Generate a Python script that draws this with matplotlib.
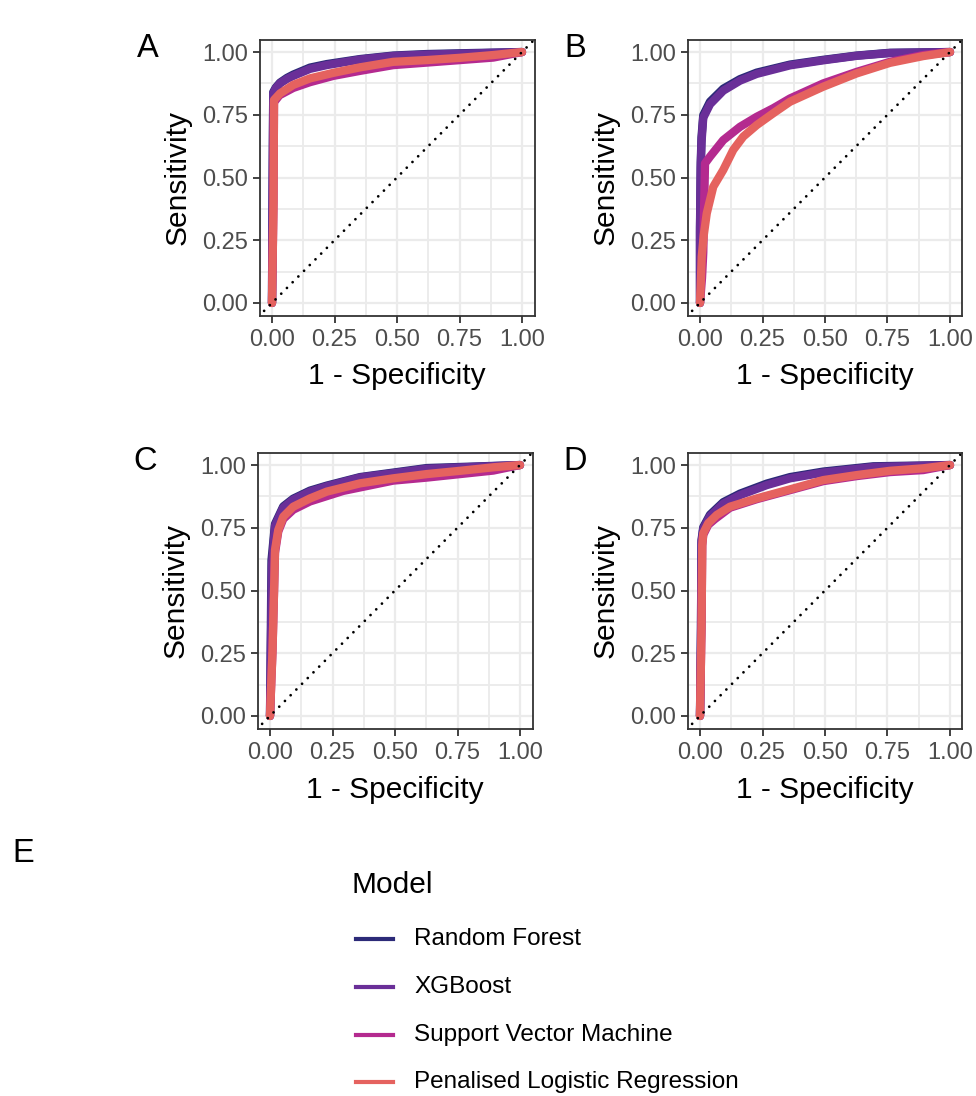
import numpy as np
import matplotlib.pyplot as plt
from matplotlib.lines import Line2D

plt.rcParams['font.family'] = ['Liberation Sans', 'DejaVu Sans']

MODELS = ['Random Forest', 'XGBoost', 'Support Vector Machine', 'Penalised Logistic Regression']
COLOURS = ['#2c2a78', '#6a2f98', '#b42a8f', '#e5625f']
PANELS = ['A', 'B', 'C', 'D']

# (fpr, tpr), per model
ROC = {
    'A': {
        'Random Forest': ([0, 0.002, 0.005, 0.015, 0.032, 0.06, 0.085, 0.152, 0.219, 0.352, 0.485, 0.619, 0.752, 1.0],
                          [0, 0.40, 0.840, 0.858, 0.878, 0.897, 0.910, 0.938, 0.952, 0.972, 0.986, 0.992, 0.995, 1.0]),
        'XGBoost': ([0, 0.002, 0.005, 0.015, 0.032, 0.06, 0.085, 0.152, 0.219, 0.352, 0.485, 0.619, 0.752, 1.0],
                    [0, 0.40, 0.835, 0.855, 0.875, 0.893, 0.905, 0.933, 0.948, 0.970, 0.984, 0.990, 0.993, 1.0]),
        'Support Vector Machine': ([0, 0.006, 0.008, 0.03, 0.085, 0.152, 0.245, 0.352, 0.485, 0.619, 0.752, 0.885, 1.0],
                                   [0, 0.40, 0.800, 0.828, 0.857, 0.880, 0.905, 0.925, 0.948, 0.958, 0.968, 0.978, 1.0]),
        'Penalised Logistic Regression': ([0, 0.006, 0.008, 0.032, 0.085, 0.152, 0.245, 0.352, 0.485, 0.619, 0.752, 0.885, 1.0],
                                          [0, 0.40, 0.809, 0.835, 0.869, 0.895, 0.917, 0.939, 0.961, 0.968, 0.977, 0.988, 1.0]),
    },
    'B': {
        'Random Forest': ([0, 0.0, 0.003, 0.006, 0.013, 0.04, 0.093, 0.16, 0.227, 0.36, 0.493, 0.627, 0.76, 1.0],
                          [0, 0.30, 0.56, 0.66, 0.748, 0.802, 0.854, 0.892, 0.918, 0.950, 0.969, 0.986, 0.997, 1.0]),
        'XGBoost': ([0, 0.0, 0.003, 0.006, 0.013, 0.04, 0.093, 0.16, 0.227, 0.36, 0.493, 0.627, 0.76, 1.0],
                    [0, 0.28, 0.54, 0.64, 0.738, 0.792, 0.846, 0.886, 0.913, 0.947, 0.967, 0.985, 0.996, 1.0]),
        'Support Vector Machine': ([0, 0.008, 0.013, 0.02, 0.04, 0.093, 0.16, 0.227, 0.293, 0.36, 0.493, 0.627, 0.76, 0.893, 1.0],
                                   [0, 0.10, 0.20, 0.556, 0.583, 0.649, 0.702, 0.742, 0.776, 0.815, 0.875, 0.921, 0.961, 0.988, 1.0]),
        'Penalised Logistic Regression': ([0, 0.004, 0.007, 0.015, 0.027, 0.053, 0.093, 0.133, 0.173, 0.227, 0.293, 0.36, 0.493, 0.627, 0.76, 0.893, 1.0],
                                          [0, 0.10, 0.185, 0.27, 0.357, 0.463, 0.530, 0.610, 0.663, 0.709, 0.756, 0.802, 0.862, 0.915, 0.957, 0.984, 1.0]),
    },
    'C': {
        'Random Forest': ([0, 0.003, 0.006, 0.02, 0.053, 0.093, 0.16, 0.227, 0.36, 0.627, 1.0],
                          [0, 0.30, 0.62, 0.765, 0.835, 0.866, 0.898, 0.918, 0.952, 0.988, 1.0]),
        'XGBoost': ([0, 0.004, 0.008, 0.02, 0.053, 0.093, 0.16, 0.227, 0.36, 0.627, 1.0],
                    [0, 0.30, 0.60, 0.758, 0.830, 0.862, 0.894, 0.915, 0.950, 0.985, 1.0]),
        'Support Vector Machine': ([0, 0.01, 0.017, 0.02, 0.033, 0.053, 0.093, 0.16, 0.293, 0.493, 0.627, 0.893, 1.0],
                                   [0, 0.26, 0.53, 0.650, 0.735, 0.785, 0.822, 0.855, 0.897, 0.938, 0.950, 0.978, 1.0]),
        'Penalised Logistic Regression': ([0, 0.01, 0.017, 0.02, 0.033, 0.053, 0.093, 0.16, 0.227, 0.36, 0.493, 0.627, 0.76, 0.893, 1.0],
                                          [0, 0.26, 0.53, 0.661, 0.741, 0.794, 0.834, 0.867, 0.894, 0.927, 0.947, 0.964, 0.977, 0.991, 1.0]),
    },
    'D': {
        'Random Forest': ([0, 0.004, 0.006, 0.013, 0.04, 0.093, 0.16, 0.267, 0.36, 0.493, 0.693, 1.0],
                          [0, 0.35, 0.70, 0.752, 0.802, 0.852, 0.886, 0.926, 0.952, 0.974, 0.995, 1.0]),
        'XGBoost': ([0, 0.004, 0.006, 0.013, 0.04, 0.093, 0.16, 0.267, 0.36, 0.493, 0.693, 1.0],
                    [0, 0.35, 0.69, 0.746, 0.796, 0.846, 0.880, 0.920, 0.947, 0.970, 0.992, 1.0]),
        'Support Vector Machine': ([0, 0.006, 0.009, 0.013, 0.033, 0.06, 0.12, 0.227, 0.36, 0.493, 0.627, 0.76, 0.893, 1.0],
                                   [0, 0.35, 0.68, 0.722, 0.762, 0.785, 0.830, 0.864, 0.900, 0.936, 0.956, 0.972, 0.980, 1.0]),
        'Penalised Logistic Regression': ([0, 0.006, 0.009, 0.013, 0.033, 0.067, 0.12, 0.227, 0.36, 0.493, 0.627, 0.76, 0.893, 1.0],
                                          [0, 0.35, 0.68, 0.728, 0.768, 0.801, 0.834, 0.867, 0.903, 0.940, 0.960, 0.977, 0.987, 1.0]),
    },
}

TICKS = [0, 0.25, 0.5, 0.75, 1.0]
TICK_LABELS = ['0.00', '0.25', '0.50', '0.75', '1.00']

W, H = 976, 1096
fig = plt.figure(figsize=(W / 100, H / 100), dpi=100)

# axes boxes in pixels: left, top
boxes = {'A': (259.5, 39.5), 'B': (687.5, 39.5), 'C': (257.5, 452.5), 'D': (687.5, 452.5)}
aw, ah = 275, 276

for p in PANELS:
    l, t = boxes[p]
    ax = fig.add_axes([l / W, 1 - (t + ah) / H, aw / W, ah / H])
    ax.set_xlim(-0.05, 1.05)
    ax.set_ylim(-0.05, 1.05)
    ax.set_xticks(TICKS)
    ax.set_xticklabels(TICK_LABELS)
    ax.set_yticks(TICKS)
    ax.set_yticklabels(TICK_LABELS)
    ax.set_xticks([0.125, 0.375, 0.625, 0.875], minor=True)
    ax.set_yticks([0.125, 0.375, 0.625, 0.875], minor=True)
    ax.grid(which='major', color='#ebebeb', lw=1.6)
    ax.grid(which='minor', color='#ebebeb', lw=1.3)
    ax.tick_params(which='minor', length=0)
    ax.tick_params(which='major', length=5, width=1.3, color='#333333',
                   labelsize=17, labelcolor='#4d4d4d', pad=3)
    ax.tick_params(axis='x', which='major', pad=5)
    ax.set_axisbelow(True)
    for s in ax.spines.values():
        s.set_color('#333333')
        s.set_linewidth(1.3)

    for m, c in zip(MODELS, COLOURS):
        fpr, tpr = ROC[p][m]
        ax.plot(fpr, tpr, color=c, lw=6, solid_capstyle='round', solid_joinstyle='round')

    ax.plot([-0.1, 1.1], [-0.1, 1.1], color='black', lw=2.0,
            dashes=(0.01, 2.9), dash_capstyle='round')

    ax.set_xlabel('1 - Specificity', fontsize=21.5, labelpad=8)
    ax.set_ylabel('Sensitivity', fontsize=21.5, labelpad=8)

    fig.text((l - 112) / W, 1 - (t + 9) / H, p, fontsize=23.5, ha='center', va='center')

fig.text(23 / W, 1 - 854 / H, 'E', fontsize=23.5, ha='center', va='center')

# legend
fig.text(352 / W, 1 - 885 / H, 'Model', fontsize=21.5, ha='left', va='center')
ys = [939, 987, 1035, 1082]
for m, c, y in zip(MODELS, COLOURS, ys):
    fig.add_artist(Line2D([356 / W, 393 / W], [1 - y / H, 1 - y / H], color=c, lw=3,
                          transform=fig.transFigure))
    fig.text(414 / W, 1 - y / H, m, fontsize=17.5, ha='left', va='center')

fig.savefig('out.png', dpi=100, facecolor='white')
